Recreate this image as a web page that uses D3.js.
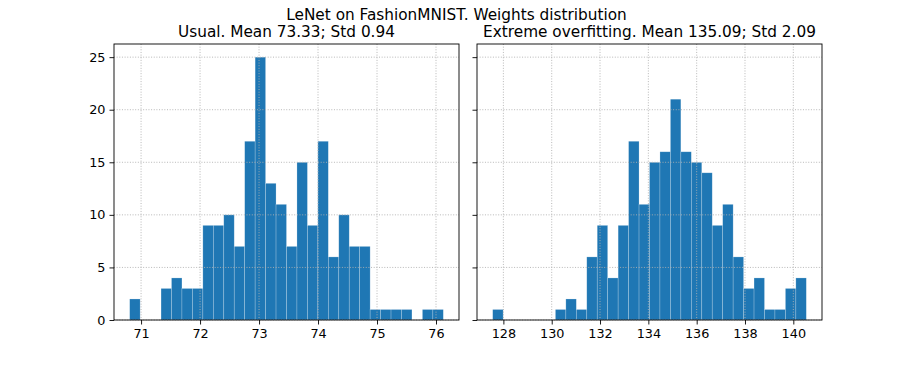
<!DOCTYPE html>
<html>
<head>
<meta charset="utf-8">
<script src="https://cdn.jsdelivr.net/npm/d3@7"></script>
<style>
  body { margin: 0; background: #fff; }
  svg { display: block; font-family: "DejaVu Sans", sans-serif; }
</style>
</head>
<body>
<div id="chart"></div>
<script>
// Figure size
const width = 913;
const height = 366;
const BAR_COLOR = '#1f77b4';
const GRID_COLOR = '#b0b0b0';

const figTitle = 'LeNet on FashionMNIST. Weights distribution';

// Left panel: 30 bins between min and max weight
const usualTitle = 'Usual. Mean 73.33; Std 0.94';
const usualRange = [70.807, 76.124];
const usualCounts = [2, 0, 0, 3, 4, 3, 3, 9, 9, 10, 7, 17, 25, 13, 11, 7, 15, 9, 17, 6, 10, 7, 7, 1, 1, 1, 1, 0, 1, 1];
const usualTicks = [71, 72, 73, 74, 75, 76];

// Right panel
const overTitle = 'Extreme overfitting. Mean 135.09; Std 2.09';
const overRange = [127.557, 140.538];
const overCounts = [1, 0, 0, 0, 0, 0, 1, 2, 1, 6, 9, 4, 9, 17, 11, 15, 16, 21, 16, 15, 14, 9, 11, 6, 3, 4, 1, 1, 3, 4];
const overTicks = [128, 130, 132, 134, 136, 138, 140];

const yTicks = [0, 5, 10, 15, 20, 25];

const svg = d3.select('#chart').append('svg')
  .attr('width', width)
  .attr('height', height);

svg.append('text')
  .attr('x', width / 2)
  .attr('y', 19.5)
  .attr('text-anchor', 'middle')
  .attr('font-size', 15.3)
  .text(figTitle);

const plotTop = 44, plotBottom = 320;

const drawPanel = (x0, x1, title, range, counts, ticks, showYLabels) => {
  const span = range[1] - range[0];
  const x = d3.scaleLinear()
    .domain([range[0] - span * 0.05, range[1] + span * 0.05])
    .range([x0, x1]);
  // shared y axis
  const maxCount = d3.max(usualCounts.concat(overCounts));
  const y = d3.scaleLinear()
    .domain([0, maxCount * 1.05])
    .range([plotBottom, plotTop]);

  const binW = span / counts.length;
  const bins = counts.map((c, i) => ({ lo: range[0] + i * binW, hi: range[0] + (i + 1) * binW, c }));

  const g = svg.append('g');

  g.selectAll('rect.bar')
    .data(bins.filter(d => d.c > 0))
    .enter()
    .append('rect')
    .attr('class', 'bar')
    .attr('x', d => x(d.lo))
    .attr('width', d => x(d.hi) - x(d.lo))
    .attr('y', d => y(d.c))
    .attr('height', d => y(0) - y(d.c))
    .attr('fill', BAR_COLOR)
    .attr('stroke', 'rgba(255,255,255,0.35)')
    .attr('stroke-width', 0.6);

  // grid on top of bars
  g.selectAll('line.vgrid')
    .data(ticks)
    .enter()
    .append('line')
    .attr('x1', d => x(d)).attr('x2', d => x(d))
    .attr('y1', plotTop).attr('y2', plotBottom)
    .attr('stroke', GRID_COLOR)
    .attr('stroke-width', 0.9)
    .attr('stroke-dasharray', '1,1.65');

  g.selectAll('line.hgrid')
    .data(yTicks)
    .enter()
    .append('line')
    .attr('x1', x0).attr('x2', x1)
    .attr('y1', d => y(d)).attr('y2', d => y(d))
    .attr('stroke', GRID_COLOR)
    .attr('stroke-width', 0.9)
    .attr('stroke-dasharray', '1,1.65');

  const xAxis = d3.axisBottom(x).tickValues(ticks).tickSize(4.5).tickPadding(4).tickFormat(d3.format('d'));
  const yAxis = d3.axisLeft(y).tickValues(yTicks).tickSize(4.5).tickPadding(4)
    .tickFormat(showYLabels ? d3.format('d') : '');

  const ax = g.append('g')
    .attr('transform', `translate(0,${plotBottom})`)
    .call(xAxis);
  const ay = g.append('g')
    .attr('transform', `translate(${x0},0)`)
    .call(yAxis);

  [ax, ay].forEach(a => {
    a.select('.domain').remove();
    a.selectAll('text').attr('font-size', 12.8).attr('fill', '#000').attr('font-family', 'DejaVu Sans');
    a.selectAll('line').attr('stroke', '#000').attr('stroke-width', 0.9);
  });

  g.append('rect')
    .attr('x', x0).attr('y', plotTop)
    .attr('width', x1 - x0).attr('height', plotBottom - plotTop)
    .attr('fill', 'none')
    .attr('stroke', '#000')
    .attr('stroke-width', 0.9);

  g.append('text')
    .attr('x', (x0 + x1) / 2)
    .attr('y', 36.5)
    .attr('text-anchor', 'middle')
    .attr('font-size', 15.3)
    .text(title);
};

drawPanel(114, 459, usualTitle, usualRange, usualCounts, usualTicks, true);
drawPanel(477, 822, overTitle, overRange, overCounts, overTicks, false);
</script>
</body>
</html>
